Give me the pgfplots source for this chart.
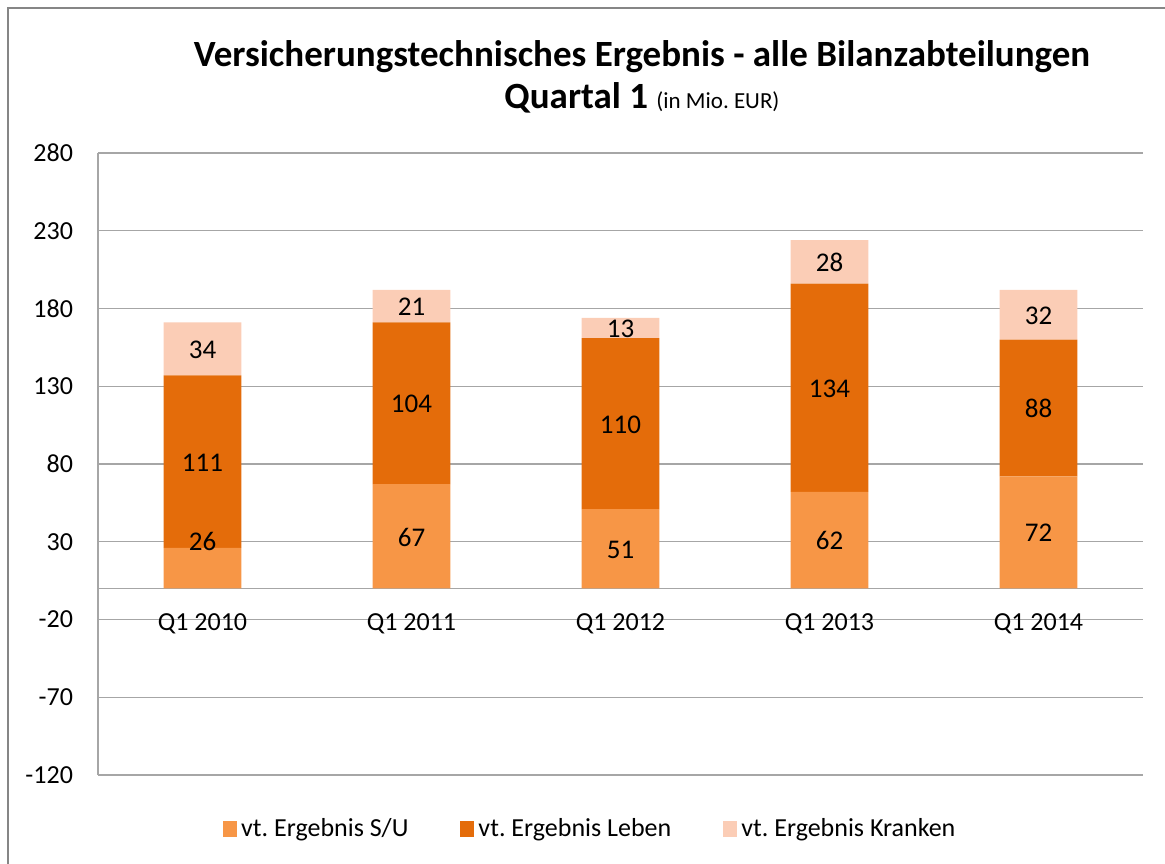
\documentclass[border=0pt]{standalone}
\usepackage{fontspec}
\setmainfont{Carlito}
\usepackage{pgfplots}
\pgfplotsset{compat=1.18}

\definecolor{cSU}{HTML}{F79646}
\definecolor{cLeben}{HTML}{E46C0A}
\definecolor{cKranken}{HTML}{FBCDB6}
\definecolor{gridgray}{HTML}{A6A6A6}
\definecolor{framegray}{HTML}{868686}

\pgfplotsset{
  frame geometry/.style={
    at={(0pt,0pt)}, anchor=south west,
    scale only axis,
    width=522.5pt, height=311pt,
    xmin=-0.5, xmax=4.5,
    ymin=-120, ymax=280,
  },
}

\begin{document}
\frenchspacing
\begin{tikzpicture}
  % 1 px of the reference = 0.5pt; axis south west sits at pixel (98,775)
  \useasboundingbox (-49pt,-44pt) rectangle (533.5pt,387.5pt);
  \draw[framegray, line width=1pt] (-45pt,-50pt) -- (-45pt,383.5pt) -- (540pt,383.5pt);

  \begin{axis}[
      frame geometry,
      ytick={-120,-70,...,280},
      xtick={0,1,2,3,4},
      xticklabels={Q1 2010,Q1 2011,Q1 2012,Q1 2013,Q1 2014},
      axis x line=middle,
      axis y line=left,
      axis line style={-, draw=gridgray, line width=0.6pt},
      ymajorgrids,
      grid style={gridgray, line width=0.6pt},
      major tick length=0pt,
      ybar stacked,
      bar width=0.373,
      /pgf/number format/assume math mode=true,
      tick label style={font=\fontsize{13}{15}\selectfont},
      xticklabel style={yshift=-9pt},
      yticklabel style={xshift=-9pt},
      legend columns=3,
      legend style={at={(0.472,-0.087)}, anchor=center, draw=none,
        font=\fontsize{13}{15}\selectfont,
        /tikz/every even column/.append style={column sep=24pt}},
      legend image code/.code={\fill[#1] (0pt,-4pt) rectangle (7pt,4pt);},
    ]
    \addplot[fill=cSU, draw=none] coordinates {(0,26) (1,67) (2,51) (3,62) (4,72)};
    \addplot[fill=cLeben, draw=none] coordinates {(0,111) (1,104) (2,110) (3,134) (4,88)};
    \addplot[fill=cKranken, draw=none] coordinates {(0,34) (1,21) (2,13) (3,28) (4,32)};
    \legend{vt. Ergebnis S/U, vt. Ergebnis Leben, vt. Ergebnis Kranken}
  \end{axis}

  % data labels, placed where the reference shows them (about the middle of each segment)
  \begin{axis}[
      frame geometry,
      hide axis,
      nodes near coords,
      point meta=explicit symbolic,
      every node near coord/.style={anchor=center, font=\fontsize{13.5}{15}\selectfont, text=black},
    ]
    \addplot[only marks, mark=none] coordinates {
      (0,30)[26]  (1,33)[67]  (2,25)[51]  (3,30.5)[62]  (4,35.5)[72]
      (0,81)[111] (1,118.5)[104] (2,105.5)[110] (3,128.5)[134] (4,115.5)[88]
      (0,153.5)[34] (1,181)[21] (2,167)[13] (3,209.5)[28] (4,175.5)[32]
    };
  \end{axis}

  \node[font=\bfseries\fontsize{18.5}{21}\selectfont, anchor=base] at (272pt,354pt)
    {Versicherungstechnisches Ergebnis - alle Bilanzabteilungen};
  \node[anchor=base] at (272pt,333pt)
    {\bfseries\fontsize{18.5}{21}\selectfont Quartal 1 {\mdseries\fontsize{11.5}{13}\selectfont (in Mio. EUR)}};
\end{tikzpicture}
\end{document}
